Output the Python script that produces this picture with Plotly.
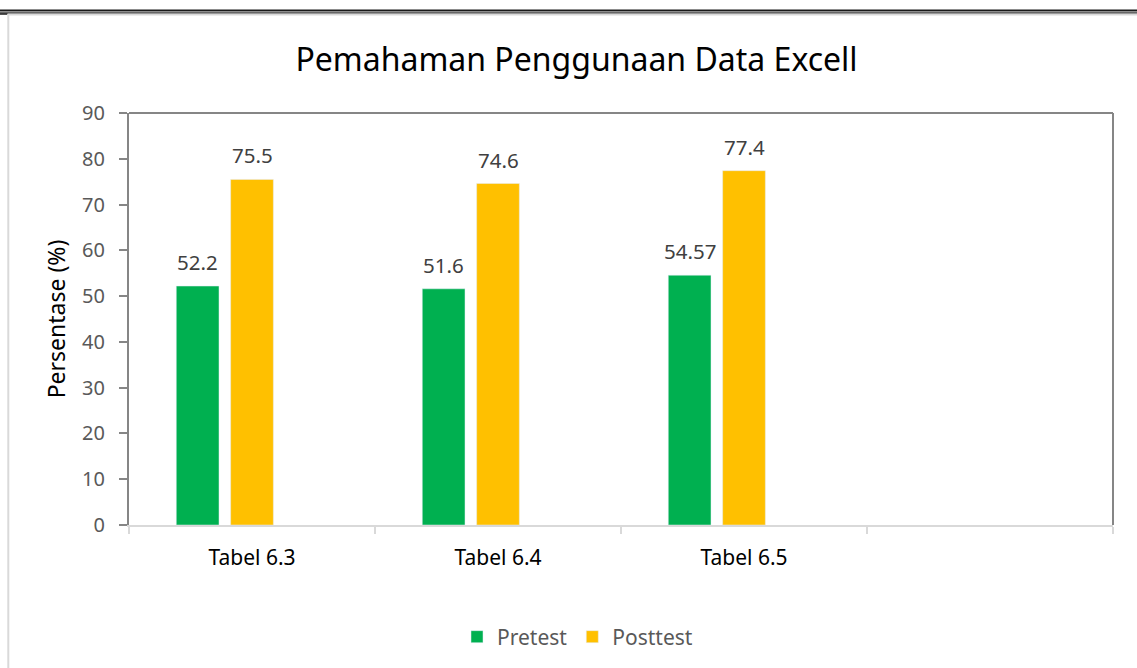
import plotly.graph_objects as go

categories = ["Tabel 6.3", "Tabel 6.4", "Tabel 6.5"]
pretest = [52.2, 51.6, 54.57]
posttest = [75.5, 74.6, 77.4]
pretest_labels = ["52.2", "51.6", "54.57"]
posttest_labels = ["75.5", "74.6", "77.4"]
y_ticks = [0, 10, 20, 30, 40, 50, 60, 70, 80, 90]

W, H = 1137, 668
L, R, T, B = 129, 1113, 113, 525
FONT = "Noto Sans"
GREEN = "#00B050"
YELLOW = "#FFC000"

BARGAP = 0.337
NSLOT = 3

xs = list(range(len(categories)))

fig = go.Figure()
fig.add_trace(go.Bar(x=xs, y=pretest, name="Pretest", marker_color=GREEN))
fig.add_trace(go.Bar(x=xs, y=posttest, name="Posttest", marker_color=YELLOW))
# empty third series slot (as in the source chart)
fig.add_trace(go.Bar(x=xs, y=[None] * len(xs), name="", showlegend=False,
                     marker_color="rgba(0,0,0,0)", hoverinfo="skip"))

slot = (1 - BARGAP) / NSLOT
annos = []
for k, (vals, labs) in enumerate([(pretest, pretest_labels), (posttest, posttest_labels)]):
    for i, (v, t) in enumerate(zip(vals, labs)):
        annos.append(dict(x=i + (k - 1) * slot, y=v, xref="x", yref="y", text=t,
                          showarrow=False, yanchor="middle", yshift=24,
                          font=dict(family=FONT, size=20.5, color="#404040")))


def px_x(px):
    return (px - L) / (R - L)


def px_y(py):
    return (B - py) / (B - T)


shapes = [
    # plot frame top and right
    dict(type="line", xref="paper", yref="paper", x0=0, x1=1, y0=1, y1=1,
         line=dict(color="#868686", width=2)),
    dict(type="line", xref="paper", yref="paper", x0=1, x1=1, y0=0, y1=1,
         line=dict(color="#868686", width=2)),
    # page border decorations
    dict(type="line", xref="paper", yref="paper", x0=px_x(0), x1=px_x(W), y0=px_y(10.6), y1=px_y(10.6),
         line=dict(color="#1a1a1a", width=2)),
    dict(type="line", xref="paper", yref="paper", x0=px_x(0), x1=px_x(W), y0=px_y(12.9), y1=px_y(12.9),
         line=dict(color="#333333", width=1.2)),
    dict(type="line", xref="paper", yref="paper", x0=px_x(8), x1=px_x(W), y0=px_y(14.7), y1=px_y(14.7),
         line=dict(color="#d9d9d9", width=1.5)),
    dict(type="line", xref="paper", yref="paper", x0=px_x(0), x1=px_x(7.5), y0=px_y(14), y1=px_y(14),
         line=dict(color="#1a1a1a", width=1.5)),
    dict(type="line", xref="paper", yref="paper", x0=px_x(8.3), x1=px_x(8.3), y0=px_y(14), y1=px_y(H),
         line=dict(color="#d9d9d9", width=2)),
]

fig.update_layout(
    width=W, height=H,
    margin=dict(l=L, r=W - R, t=T, b=H - B, autoexpand=False),
    paper_bgcolor="white", plot_bgcolor="white",
    barmode="group", bargap=BARGAP, bargroupgap=0.214,
    font=dict(family=FONT, color="#595959"),
    title=dict(text="Pemahaman Penggunaan Data Excell", x=576.5 / W, xref="container",
               xanchor="center", y=1 - 60 / H, yref="container", yanchor="middle",
               font=dict(family=FONT, size=32, color="#000000")),
    showlegend=True,
    legend=dict(orientation="h", x=px_x(457), xanchor="left",
                y=px_y(637), yanchor="middle", font=dict(size=21, color="#595959"),
                traceorder="normal", bgcolor="rgba(0,0,0,0)"),
    xaxis=dict(range=[-0.5, 3.5], tickmode="array", tickvals=xs, ticktext=categories,
               ticks="", showgrid=False, zeroline=False, showline=True,
               linecolor="#d9d9d9", linewidth=2,
               tickfont=dict(size=21, color="#000000"), ticklabelstandoff=13,
               minor=dict(tickmode="linear", tick0=-0.5, dtick=1, ticks="outside",
                          ticklen=7, tickcolor="#d9d9d9", tickwidth=2, showgrid=False),
               fixedrange=True),
    yaxis=dict(range=[0, 90], tickmode="array", tickvals=y_ticks, showgrid=False,
               zeroline=False, showline=True, linecolor="#868686", linewidth=2,
               ticks="outside", ticklen=8, tickcolor="#868686", tickwidth=2,
               tickfont=dict(size=20, color="#595959"), ticklabelstandoff=10,
               title=dict(text="Persentase (%)", font=dict(size=23, color="#000000"), standoff=10),
               fixedrange=True),
    annotations=annos,
    shapes=shapes,
)

fig.write_html("out.html", config={"displayModeBar": False},
               post_script="document.body.style.margin='0';")
